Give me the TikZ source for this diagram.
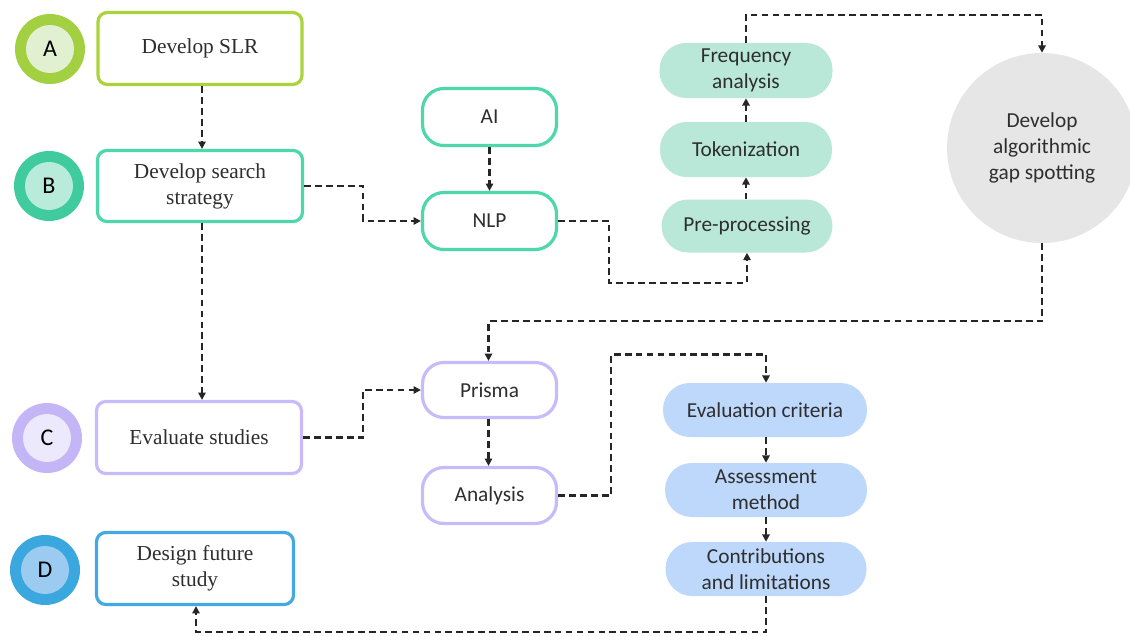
\documentclass[tikz,border=0pt]{standalone}
\usepackage{fontspec}
\setmainfont{Liberation Serif}
\newfontfamily\calfont{Carlito}
\usetikzlibrary{arrows.meta,calc}
\definecolor{txt}{HTML}{2E2E2E}
\definecolor{lnk}{HTML}{262626}
\definecolor{aOut}{HTML}{A3D041}
\definecolor{aIn}{HTML}{E2F0D2}
\definecolor{aBox}{HTML}{ABD33C}
\definecolor{bOut}{HTML}{3FCB9E}
\definecolor{bIn}{HTML}{B8EBD9}
\definecolor{bBox}{HTML}{4ED7AA}
\definecolor{cOut}{HTML}{C4B5F7}
\definecolor{cIn}{HTML}{EDE9FC}
\definecolor{cBox}{HTML}{C9BAF9}
\definecolor{dOut}{HTML}{3AA7DE}
\definecolor{dIn}{HTML}{9CCBF2}
\definecolor{dBox}{HTML}{45A9E1}
\definecolor{tealF}{HTML}{B9E8D8}
\definecolor{blueF}{HTML}{BDD8FB}
\definecolor{grayF}{HTML}{E6E6E6}
\tikzset{
  ser/.style={font=\fontsize{16}{19.5}\selectfont, text=txt, align=center},
  san/.style={font=\calfont\fontsize{16}{19.5}\selectfont, text=txt, align=center},
  mainbox/.style={ser, draw, line width=2.4pt, rounded corners=7pt, fill=white},
  pill/.style={san, draw, line width=2.4pt, rounded corners=16pt, fill=white},
  fpill/.style={san, rounded corners=20pt, inner sep=0pt},
  ringout/.style={circle, minimum size={70*0.75pt}, inner sep=0pt},
  ringin/.style={circle, minimum size={48*0.75pt}, inner sep=0pt, font=\calfont\fontsize{18}{20}\selectfont, text=black},
  link/.style={draw=lnk, line width=1.6pt, dash pattern=on 5pt off 3.2pt, -{Triangle[length=5.5pt,width=5.5pt]}},
}
\begin{document}
\begin{tikzpicture}[x=0.75pt,y=-0.75pt]
\clip (0,0) rectangle (1130,635);
\fill[white] (0,0) rectangle (1130,635);

% letter circles
\node[ringout, fill=aOut] (cA) at (50,49) {};
\node[ringin, fill=aIn] (lA) at (cA) {A};
\node[ringout, fill=bOut] (cB) at (49,186) {};
\node[ringin, fill=bIn] (lB) at (cB) {B};
\node[ringout, fill=cOut] (cC) at (47,438) {};
\node[ringin, fill=cIn] (lC) at (cC) {C};
\node[ringout, fill=dOut] (cD) at (45,570) {};
\node[ringin, fill=dIn] (lD) at (cD) {D};

% main boxes
\node[mainbox, draw=aBox, minimum width={204*0.75pt}, minimum height={72*0.75pt}] (slr) at (200,48.5) {Develop SLR};
\node[mainbox, draw=bBox, minimum width={205*0.75pt}, minimum height={71*0.75pt}] (search) at (200,186) {Develop search\\strategy};
\node[mainbox, draw=cBox, minimum width={205*0.75pt}, minimum height={72*0.75pt}] (evalst) at (199,437.5) {Evaluate studies};
\node[mainbox, draw=dBox, minimum width={197*0.75pt}, minimum height={72*0.75pt}] (design) at (195,568.5) {Design future\\study};

% B branch
\node[pill, draw=bBox, minimum width={134*0.75pt}, minimum height={57*0.75pt}] (ai) at (489.5,117) {AI};
\node[pill, draw=bBox, minimum width={134*0.75pt}, minimum height={57*0.75pt}] (nlp) at (489.5,221) {NLP};
\node[fpill, fill=tealF, minimum width={173*0.75pt}, minimum height={55*0.75pt}] (freq) at (746,70.5) {Frequency\\analysis};
\node[fpill, fill=tealF, minimum width={172*0.75pt}, minimum height={55*0.75pt}] (tok) at (746,149.5) {Tokenization};
\node[fpill, fill=tealF, minimum width={171*0.75pt}, minimum height={53*0.75pt}] (pre) at (747,226) {Pre-processing};
\node[san, circle, fill=grayF, minimum size={190*0.75pt}, inner sep=0pt] (gap) at (1042,148) {Develop\\algorithmic\\gap spotting};

% C branch
\node[pill, draw=cBox, minimum width={134*0.75pt}, minimum height={55*0.75pt}] (prisma) at (489.5,390) {Prisma};
\node[pill, draw=cBox, minimum width={134*0.75pt}, minimum height={56*0.75pt}] (analysis) at (489.5,495.5) {Analysis};
\node[fpill, fill=blueF, minimum width={204*0.75pt}, minimum height={54*0.75pt}] (crit) at (765,410) {Evaluation criteria};
\node[fpill, fill=blueF, minimum width={202*0.75pt}, minimum height={54*0.75pt}] (assess) at (766,490) {Assessment\\method};
\node[fpill, fill=blueF, minimum width={201*0.75pt}, minimum height={54*0.75pt}] (contrib) at (766,569) {Contributions\\and limitations};

% connectors
\draw[link] ($(slr.south)+(2,0)$) -- ($(search.north)+(2,0)$);
\draw[link] ($(search.south)+(2,0)$) -- ($(evalst.north)+(3,0)$);
\draw[link] (search.east) -- ++(59,0) |- (nlp.west);
\draw[link] (ai.south) -- (nlp.north);
\draw[link] (nlp.east) -- ++(51,0) -- ++(0,62) -| (pre.south);
\draw[link] ($(pre.north)+(-1,0)$) -- (tok.south);
\draw[link] (tok.north) -- (freq.south);
\draw[link] (freq.north) -- ++(0,-28) -| (gap.north);
\draw[link] (gap.south) -- ++(0,78) -| ($(prisma.north)+(-1,0)$);
\draw[link] (evalst.east) -- ++(60,0) |- (prisma.west);
\draw[link] ($(prisma.south)+(-1,0)$) -- ($(analysis.north)+(-1,0)$);
\draw[link] (analysis.east) -- ++(53,0) -- ++(0,-141) -| ($(crit.north)+(1,0)$);
\draw[link] ($(crit.south)+(1,0)$) -- (assess.north);
\draw[link] (assess.south) -- (contrib.north);
\draw[link] (contrib.south) -- ++(0,36) -| ($(design.south)+(1,0)$);
\end{tikzpicture}
\end{document}
